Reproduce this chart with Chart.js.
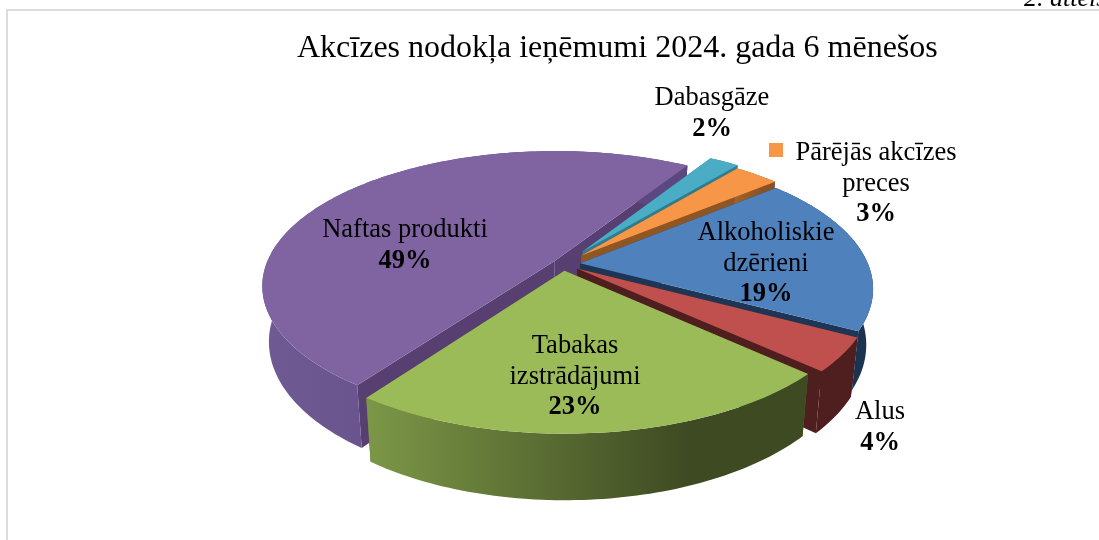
<!DOCTYPE html>
<html>
<head>
<meta charset="utf-8">
<style>
html, body { margin: 0; padding: 0; background: #fff; overflow: hidden; }
#wrap { position: relative; width: 1099px; height: 540px; }
</style>
</head>
<body>
<div id="wrap"><canvas id="my_chart" width="1099" height="540"></canvas></div>
<script src="https://cdn.jsdelivr.net/npm/chart.js@4"></script>
<script>
const titleText = "Akcīzes nodokļa ieņēmumi 2024. gada 6 mēnešos"
const noteText = "2. attēls"

const categories = ["Alkoholiskie dzērieni", "Alus", "Tabakas izstrādājumi", "Naftas produkti", "Dabasgāze", "Pārējās akcīzes preces"]
const shares = [19, 4, 23, 49, 2, 3]

// how the names wrap on the picture
const labelLines = [["Alkoholiskie", "dzērieni"], ["Alus"], ["Tabakas", "izstrādājumi"], ["Naftas produkti"], ["Dabasgāze"], ["Pārējās akcīzes", "preces"]]
const labelX = [766, 880, 575, 405, 712, 876]
const labelTop = [240, 419, 353, 237, 105, 160]

const topColors = ["#4f81bd", "#c0504d", "#9bbb59", "#8064a2", "#4bacc6", "#f79646"]
const wallLeft = ["#254569", "#4f1e1e", "#7c9747", "#705a94", "#2f7f94", "#a4622a"]
const wallRight = ["#1c3350", "#4f1e1e", "#3e4a22", "#5c4880", "#2f7f94", "#8a5222"]
const cutColors = ["#1e3655", "#4f1e1e", "#5f7434", "#583f72", "#2d7d91", "#8f5624"]
const explode = [13, 13, 11, 8, 26, 20]
// painted back to front: oil first, tobacco last
const drawOrder = [3, 4, 5, 0, 1, 2]

// fake 3D camera, the same numbers for every slice
const centerX = 563
const centerY = 264
const spreadX = 288
const spreadY = 131
const tilt = 0.18
const depth = 54
const shrink = 0.022

function project(u, v, z) {
  const w = 1 / (1 - tilt * v)
  return [centerX + u * spreadX * w * (1 - shrink * z), centerY + v * spreadY * w + z * depth * w]
}

function rimPoints(arc, z) {
  const R = arc.outerRadius
  const mid = (arc.startAngle + arc.endAngle) / 2
  const off = arc.options.offset / R
  const pts = []
  const steps = Math.ceil((arc.endAngle - arc.startAngle) / 0.02)
  for (let i = 0; i <= steps; i++) {
    const a = arc.startAngle + (arc.endAngle - arc.startAngle) * i / steps
    pts.push(project(Math.cos(a) + off * Math.cos(mid), Math.sin(a) + off * Math.sin(mid), z))
  }
  return pts
}

function apexPoint(arc, z) {
  const mid = (arc.startAngle + arc.endAngle) / 2
  const off = arc.options.offset / arc.outerRadius
  return project(off * Math.cos(mid), off * Math.sin(mid), z)
}

function fillPoly(ctx, pts, style) {
  ctx.beginPath()
  pts.forEach((p, i) => i ? ctx.lineTo(p[0], p[1]) : ctx.moveTo(p[0], p[1]))
  ctx.closePath()
  ctx.fillStyle = style
  ctx.fill()
}

const pie3d = {
  id: "pie3d",
  beforeDraw(chart) {
    const ctx = chart.ctx
    ctx.save()
    ctx.fillStyle = "#dcdcdc"
    ctx.fillRect(6, 9, 1093, 2)
    ctx.fillRect(6, 9, 2, 531)
    ctx.fillStyle = "#000"
    ctx.font = "italic 26px 'Liberation Serif'"
    ctx.textAlign = "left"
    ctx.fillText(noteText, 1024, 6)
    ctx.restore()
  },
  beforeDatasetDraw(chart, args) {
    const ctx = chart.ctx
    const arcs = args.meta.data

    ctx.save()
    drawOrder.forEach(i => {
      const arc = arcs[i]
      const top = rimPoints(arc, 0)
      const bottom = rimPoints(arc, 1)
      const apexTop = apexPoint(arc, 0)
      const apexBottom = apexPoint(arc, 1)

      fillPoly(ctx, [apexTop, top[0], bottom[0], apexBottom], cutColors[i])
      fillPoly(ctx, [apexTop, top[top.length - 1], bottom[bottom.length - 1], apexBottom], cutColors[i])

      const xs = top.concat(bottom).map(p => p[0])
      const grad = ctx.createLinearGradient(Math.min(...xs), 0, Math.max(...xs), 0)
      grad.addColorStop(0, wallLeft[i])
      grad.addColorStop(0.73, wallRight[i])
      grad.addColorStop(1, wallRight[i])
      fillPoly(ctx, top.concat(bottom.slice().reverse()), grad)

      fillPoly(ctx, [apexTop].concat(top), topColors[i])
    })
    ctx.restore()
    return false
  },
  afterDraw(chart) {
    const ctx = chart.ctx
    ctx.save()
    ctx.fillStyle = topColors[5]
    ctx.fillRect(769, 143, 14, 14)
    ctx.textAlign = "center"
    ctx.fillStyle = "#000"
    labelLines.forEach((lines, i) => {
      ctx.font = "26.5px 'Liberation Serif'"
      lines.forEach((line, k) => ctx.fillText(line, labelX[i], labelTop[i] + k * 30.5))
      ctx.font = "bold 26.5px 'Liberation Serif'"
      ctx.fillText(shares[i] + "%", labelX[i], labelTop[i] + lines.length * 30.5)
    })
    ctx.restore()
  }
}

new Chart(document.querySelector("#my_chart"), {
  type: "pie",
  data: {
    labels: categories,
    datasets: [{
      data: shares,
      backgroundColor: topColors,
      offset: explode,
      borderWidth: 0
    }]
  },
  options: {
    responsive: false,
    animation: false,
    rotation: 50,
    layout: { padding: { left: 297 } },
    plugins: {
      legend: { display: false },
      tooltip: { enabled: false },
      title: {
        display: true,
        text: titleText,
        align: "start",
        color: "#000",
        font: { family: "'Liberation Serif'", size: 32, weight: "normal", lineHeight: 1.2 },
        padding: { top: 29, bottom: 10 }
      }
    }
  },
  plugins: [pie3d]
})
</script>
</body>
</html>
